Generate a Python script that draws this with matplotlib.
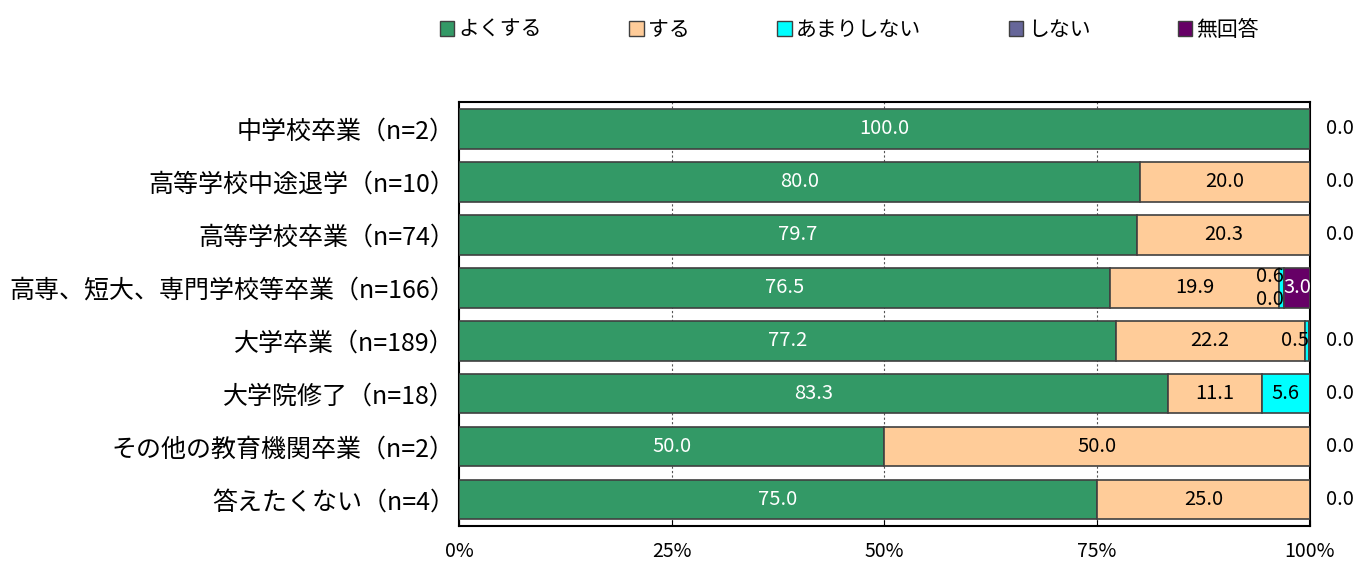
import numpy as np
import matplotlib
matplotlib.use("Agg")
import matplotlib.pyplot as plt
from matplotlib.patches import Patch

plt.rcParams['font.family'] = ['Noto Sans CJK JP', 'DejaVu Sans']

# categories, top to bottom
categories = ['中学校卒業（n=2）', '高等学校中途退学（n=10）', '高等学校卒業（n=74）',
              '高専、短大、専門学校等卒業（n=166）', '大学卒業（n=189）', '大学院修了（n=18）',
              'その他の教育機関卒業（n=2）', '答えたくない（n=4）']
series_names = ['よくする', 'する', 'あまりしない', 'しない', '無回答']
yoku = [100.0, 80.0, 79.7, 76.5, 77.2, 83.3, 50.0, 75.0]
suru = [0.0, 20.0, 20.3, 19.9, 22.2, 11.1, 50.0, 25.0]
amari = [0.0, 0.0, 0.0, 0.6, 0.5, 5.6, 0.0, 0.0]
shinai = [0.0, 0.0, 0.0, 0.0, 0.0, 0.0, 0.0, 0.0]
mukaito = [0.0, 0.0, 0.0, 3.0, 0.0, 0.0, 0.0, 0.0]
xticks = [0, 25, 50, 75, 100]

colors = ['#339966', '#FFCC99', '#00FFFF', '#666699', '#660066']
text_colors = ['white', 'black', 'black', 'white', 'white']

data = np.array([yoku, suru, amari, shinai, mukaito])
n = len(categories)
ns = len(series_names)
y = np.arange(n)

fig = plt.figure(figsize=(13.7, 5.62), dpi=100)
ax = fig.add_axes([0.335, 0.064, 0.621, 0.754])

left = np.zeros(n)
for k in range(ns):
    ax.barh(y, data[k], left=left, height=0.75, color=colors[k],
            edgecolor='#404040', linewidth=1.2, zorder=3)
    left += data[k]

# value labels
for i in range(n):
    cum = 0.0
    small = []
    for k in range(ns):
        v = data[k, i]
        later = data[k + 1:, i].sum()
        if v >= 3:
            ax.text(cum + v / 2, y[i], f'{v:.1f}', ha='center', va='center',
                    color=text_colors[k], fontsize=14.5, zorder=4)
        elif k < ns - 1 and (v > 0 or (0 < later < 100)):
            small.append((cum + v, v))
        cum += v
    offs = [0] if len(small) == 1 else [-0.22, 0.22]
    for j, (xe, v) in enumerate(small):
        ax.text(xe, y[i] + offs[j % len(offs)], f'{v:.1f}', ha='right',
                va='center', color='black', fontsize=14.5, zorder=4)
    if data[-1, i] == 0:
        ax.text(1.036, y[i], f'{data[-1, i]:.1f}', transform=ax.get_yaxis_transform(),
                ha='center', va='center', fontsize=14.5)

ax.set_xlim(0, 100)
ax.set_ylim(n - 0.5, -0.5)
ax.set_yticks(y)
ax.set_yticklabels(categories, fontsize=18)
ax.set_xticks(xticks)
ax.set_xticklabels([f'{t}%' for t in xticks], fontsize=14)
ax.tick_params(axis='y', length=0, pad=3)
ax.tick_params(axis='x', direction='in', length=4, pad=11)
for x in xticks[1:-1]:
    ax.axvline(x, color='#555555', linestyle=(0, (2, 2)), linewidth=0.8, zorder=1)
for s in ax.spines.values():
    s.set_color('black')
    s.set_linewidth(1.5)

handles = [Patch(facecolor=c, edgecolor='#404040', linewidth=1) for c in colors]
fig.legend(handles, series_names, loc='upper center', bbox_to_anchor=(0.62, 1.0),
           ncol=5, frameon=False, fontsize=15, handlelength=0.7, handleheight=0.7,
           handletextpad=0.2, columnspacing=4.2)

fig.savefig('out.png', dpi=100)
